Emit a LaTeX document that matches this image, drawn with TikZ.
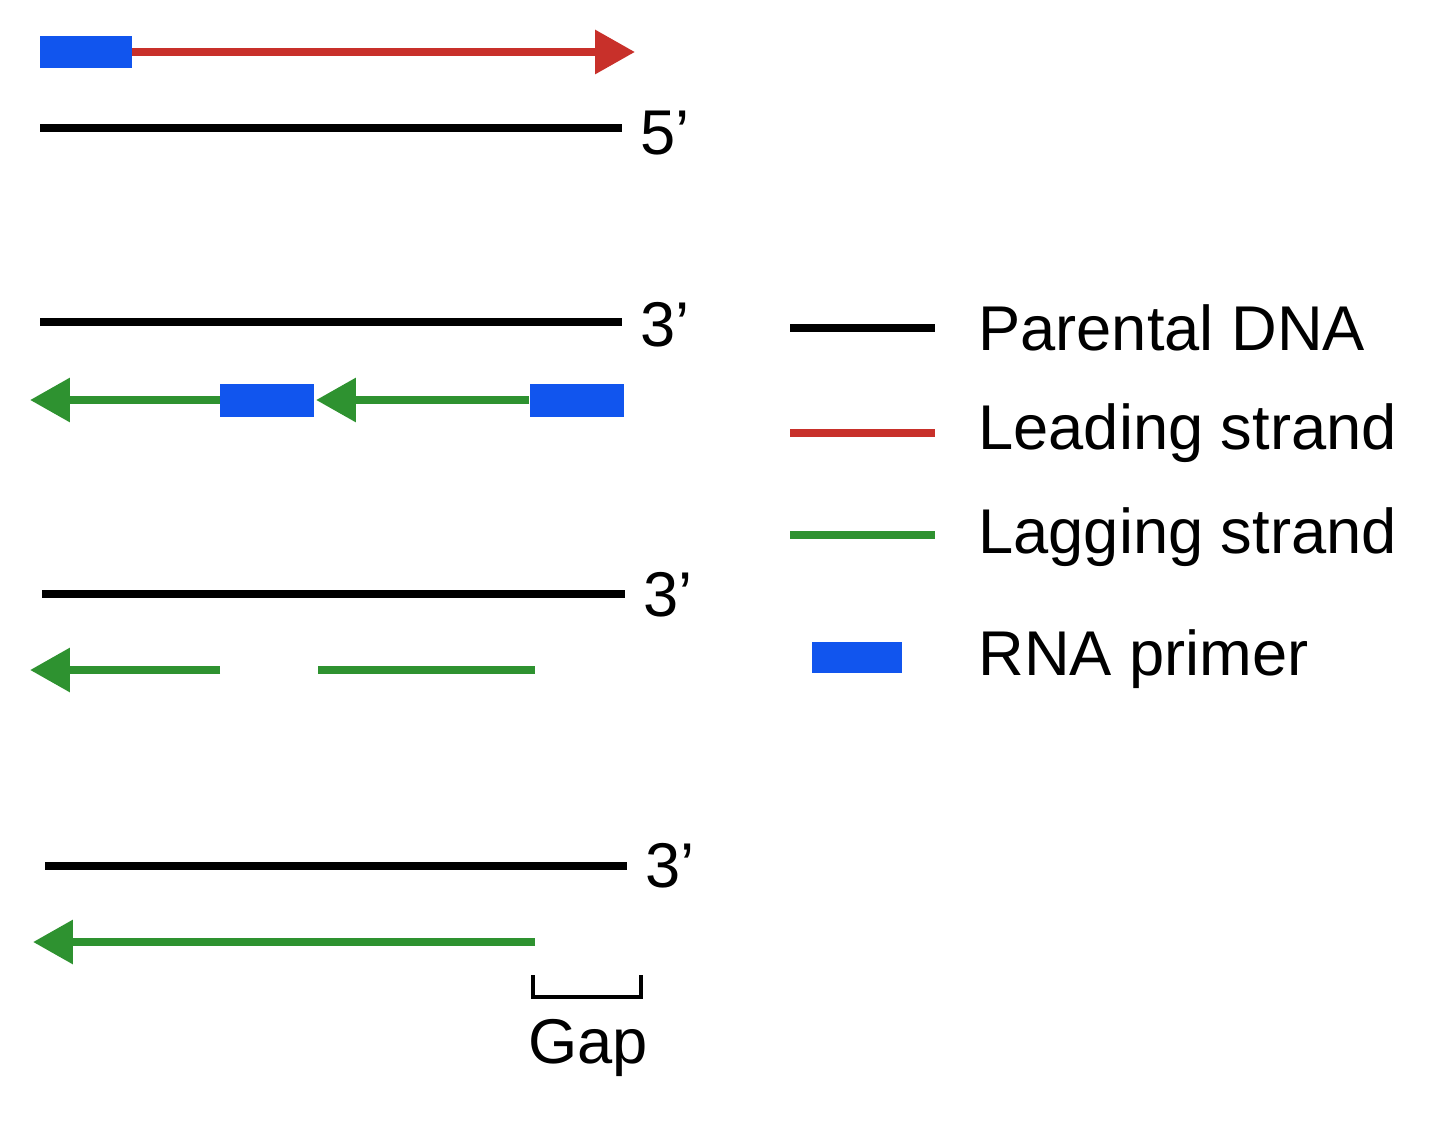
\documentclass[tikz,border=0pt]{standalone}
\usepackage{fontspec}
\setmainfont{Liberation Sans}
\usetikzlibrary{arrows.meta,positioning}
\definecolor{leadred}{HTML}{C8302A}
\definecolor{laggreen}{HTML}{2E9230}
\definecolor{primerblue}{HTML}{1155EE}
\newcommand{\prm}{{\char"27}}

\begin{document}
\begin{tikzpicture}[x=0.02cm, y=-0.02cm,
  parental/.style={line width=4.6pt, black},
  leading/.style={line width=4.6pt, leadred},
  lagging/.style={line width=4.6pt, laggreen},
  tip/.style={-{Triangle[length=0.8cm,width=0.85cm]}},
  primer/.style={fill=primerblue, draw=none},
  lbl/.style={font=\fontsize{36}{40}\selectfont, inner sep=0pt}]
 \useasboundingbox (0,0) rectangle (1440,1122);

 % Top pair - leading strand
 \node[primer, minimum width=1.84cm, minimum height=0.66cm] (p0) at (86,52) {};
 \coordinate (l0) at (635,52);
 \draw[leading, tip] (p0.east) -- (l0);
 \coordinate (a1) at (40,128); \coordinate (b1) at (622,128);
 \draw[parental] (a1) -- (b1);
 \node[lbl, anchor=west] (e1) at (640,133) {5\prm};

 % Lagging strand with primers
 \coordinate (a2) at (40,322); \coordinate (b2) at (622,322);
 \draw[parental] (a2) -- (b2);
 \node[lbl, anchor=west] (e2) at (640,325) {3\prm};
 \node[primer, minimum width=1.88cm, minimum height=0.66cm] (p1) at (267,400) {};
 \node[primer, minimum width=1.9cm, minimum height=0.66cm] (p2) at (577,400) {};
 \coordinate (t1) at (30,400); \coordinate (t2) at (316,400);
 \draw[lagging, tip] (p1.west) -- (t1);
 \draw[lagging, tip] (p2.west) -- (t2);

 % Primers removed
 \coordinate (a3) at (42,594); \coordinate (b3) at (625,594);
 \draw[parental] (a3) -- (b3);
 \node[lbl, anchor=west] (e3) at (643,595) {3\prm};
 \coordinate (s1) at (220,670); \coordinate (t3) at (30,670);
 \coordinate (s2) at (318,670); \coordinate (s3) at (535,670);
 \draw[lagging, tip] (s1) -- (t3);
 \draw[lagging] (s2) -- (s3);

 % Gap left
 \coordinate (a4) at (45,866); \coordinate (b4) at (627,866);
 \draw[parental] (a4) -- (b4);
 \node[lbl, anchor=west] (e4) at (645,866) {3\prm};
 \coordinate (s4) at (535,942); \coordinate (t4) at (33,942);
 \draw[lagging, tip] (s4) -- (t4);
 \coordinate (g1) at (533,975); \coordinate (g2) at (641,975);
 \draw[line width=2.6pt] (g1) -- ++(0,22) -| (g2);
 \node[lbl] (gap) at (588,1048) {Gap};

 % Legend
 \coordinate (k1) at (790,328); \coordinate (k2) at (935,328);
 \draw[parental] (k1) -- (k2);
 \node[lbl, anchor=west] (t-par) at (978,328) {Parental DNA};
 \coordinate (k3) at (790,433); \coordinate (k4) at (935,433);
 \draw[leading] (k3) -- (k4);
 \node[lbl, anchor=west] (t-lead) at (978,433) {Leading strand};
 \coordinate (k5) at (790,535); \coordinate (k6) at (935,535);
 \draw[lagging] (k5) -- (k6);
 \node[lbl, anchor=west] (t-lag) at (978,537) {Lagging strand};
 \node[primer, minimum width=1.8cm, minimum height=0.62cm] (kp) at (857,657) {};
 \node[lbl, anchor=west] (t-rna) at (978,659) {RNA primer};
\end{tikzpicture}
\end{document}
